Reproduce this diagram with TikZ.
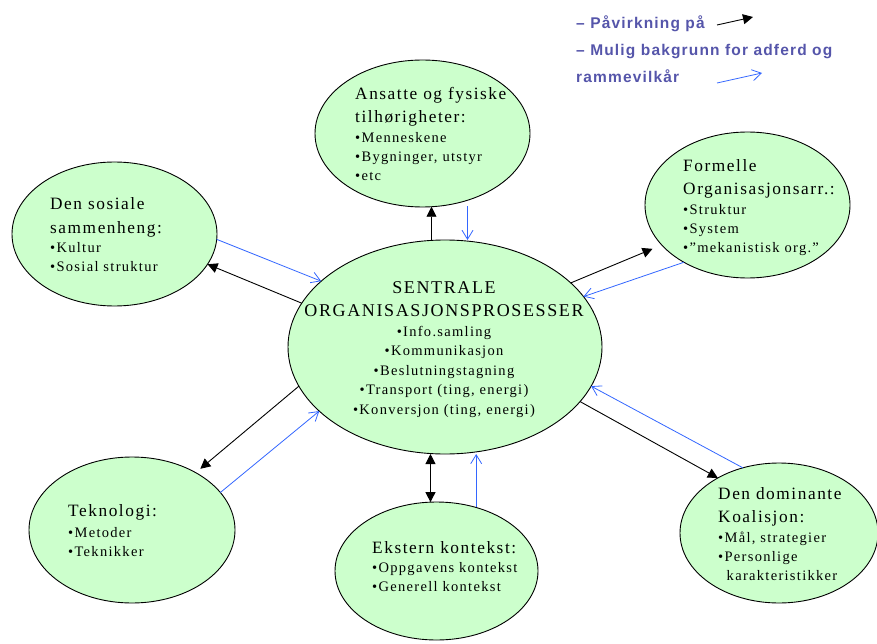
\documentclass[tikz,border=0pt]{standalone}
\usepackage{fontspec}
\setmainfont{Liberation Serif}
\newfontfamily\ellfont[LetterSpace=9]{Liberation Serif}
\newfontfamily\legfont[LetterSpace=7.5]{Liberation Sans}
\usetikzlibrary{shapes.geometric,arrows.meta}
\definecolor{blobfill}{HTML}{CCFFCC}
\definecolor{infl}{HTML}{3366FF}
\definecolor{legcol}{HTML}{5555AA}
\newcommand{\tf}{\fontsize{17.3}{23.5}\selectfont}
\newcommand{\ctf}{\fontsize{18}{23}\selectfont}
\begin{document}
\begin{tikzpicture}[x=1pt,y=-1pt,
  blob/.style={ellipse, draw=black, line width=0.9pt, fill=blobfill, inner sep=0pt, outer sep=0pt},
  txt/.style={anchor=base west, align=left, inner sep=0pt, font=\ellfont\fontsize{14.5}{19}\selectfont},
  ctxt/.style={anchor=base, align=center, inner sep=0pt, font=\ellfont\fontsize{14.5}{19.5}\selectfont},
  legtxt/.style={anchor=base west, align=left, inner sep=0pt, text=legcol, font=\legfont\bfseries\fontsize{15.5}{27.4}\selectfont},
  blk/.style={draw=black, line width=0.9pt, -{Triangle[length=10pt,width=10pt]}},
  blkd/.style={draw=black, line width=0.9pt, {Triangle[length=10pt,width=10pt]}-{Triangle[length=10pt,width=10pt]}},
  blu/.style={draw=infl, line width=0.8pt, -{Straight Barb[length=9pt,width=11pt,line width=0.8pt]}}
]
\useasboundingbox (0,0) rectangle (877,644);

% ellipses
\node[blob, minimum width=215pt, minimum height=147pt] (T) at (422.5,133.5) {};
\node[blob, minimum width=205pt, minimum height=144pt] (S) at (114.5,234) {};
\node[blob, minimum width=205pt, minimum height=146pt] (F) at (747.5,205) {};
\node[blob, minimum width=314pt, minimum height=214pt] (C) at (445,347) {};
\node[blob, minimum width=206pt, minimum height=146pt] (K) at (132,530) {};
\node[blob, minimum width=203pt, minimum height=138pt] (E) at (436.5,571) {};
\node[blob, minimum width=198pt, minimum height=140pt] (D) at (779,533) {};

% texts (positioned at the baseline of their last line)
\node[txt] (Tt) at (355,180.7) {{\tf Ansatte og fysiske}\\[4.4pt]{\tf tilhørigheter:}\\[1pt]•Menneskene\\•Bygninger, utstyr\\•etc};
\node[txt] (St) at (50,271.7) {{\tf Den sosiale}\\[5pt]{\tf sammenheng:}\\[0.4pt]•Kultur\\•Sosial struktur};
\node[txt] (Ft) at (683,252.7) {{\tf Formelle}\\[4.3pt]{\tf Organisasjonsarr.:}\\[1pt]•Struktur\\•System\\•”mekanistisk org.”};
\node[ctxt] (Ct) at (444,414) {{\ctf SENTRALE}\\[3.2pt]{\ctf ORGANISASJONSPROSESSER}\\[0.5pt]•Info.samling\\•Kommunikasjon\\•Beslutningstagning\\•Transport (ting, energi)\\•Konversjon (ting, energi)};
\node[txt] (Kt) at (68,556.7) {{\tf Teknologi:}\\[2.6pt]•Metoder\\•Teknikker};
\node[txt] (Et) at (372,591.7) {{\tf Ekstern kontekst:}\\[0.4pt]•Oppgavens kontekst\\•Generell kontekst};
\node[txt] (Dt) at (718,580.7) {{\tf Den dominante}\\[3.4pt]{\tf Koalisjon:}\\[1.6pt]•Mål, strategier\\•Personlige\\\hspace*{8.5pt}karakteristikker};

% legend
\node[legtxt] (L) at (576,83) {– Påvirkning på\\– Mulig bakgrunn for adferd og\\rammevilkår};
\coordinate (la1) at (717,25);
\coordinate (lb1) at (753,17);
\coordinate (la2) at (717,83);
\coordinate (lb2) at (762,73);
\draw[blk] (la1) -- (lb1);
\draw[blu] (la2) -- (lb2);

% connectors
\draw[blk] (C.north -| T.-83) -- (T.-83);
\draw[blu, shorten <=6pt] (T.-56) -- (C.north -| T.-56);

\draw[blu] (S.-3) -- (C.152);
\draw[blk] (C.163) -- (S.-18);

\draw[blk, shorten >=10pt] (C.27) -- (F.-155);
\draw[blu] (F.-138) -- (C.20);

\draw[blk, shorten >=6pt] (C.-165) -- (K.42);
\draw[blu] (K.23.5) -- (C.-153);

\draw[blkd] (C.south -| E.95) -- (E.95);
\draw[blu] (E.58.5) -- (C.south -| E.58.5);

\draw[blk] (C.-22) -- (D.138);
\draw[blu] (D.119) -- (C.-15);
\end{tikzpicture}
\end{document}
